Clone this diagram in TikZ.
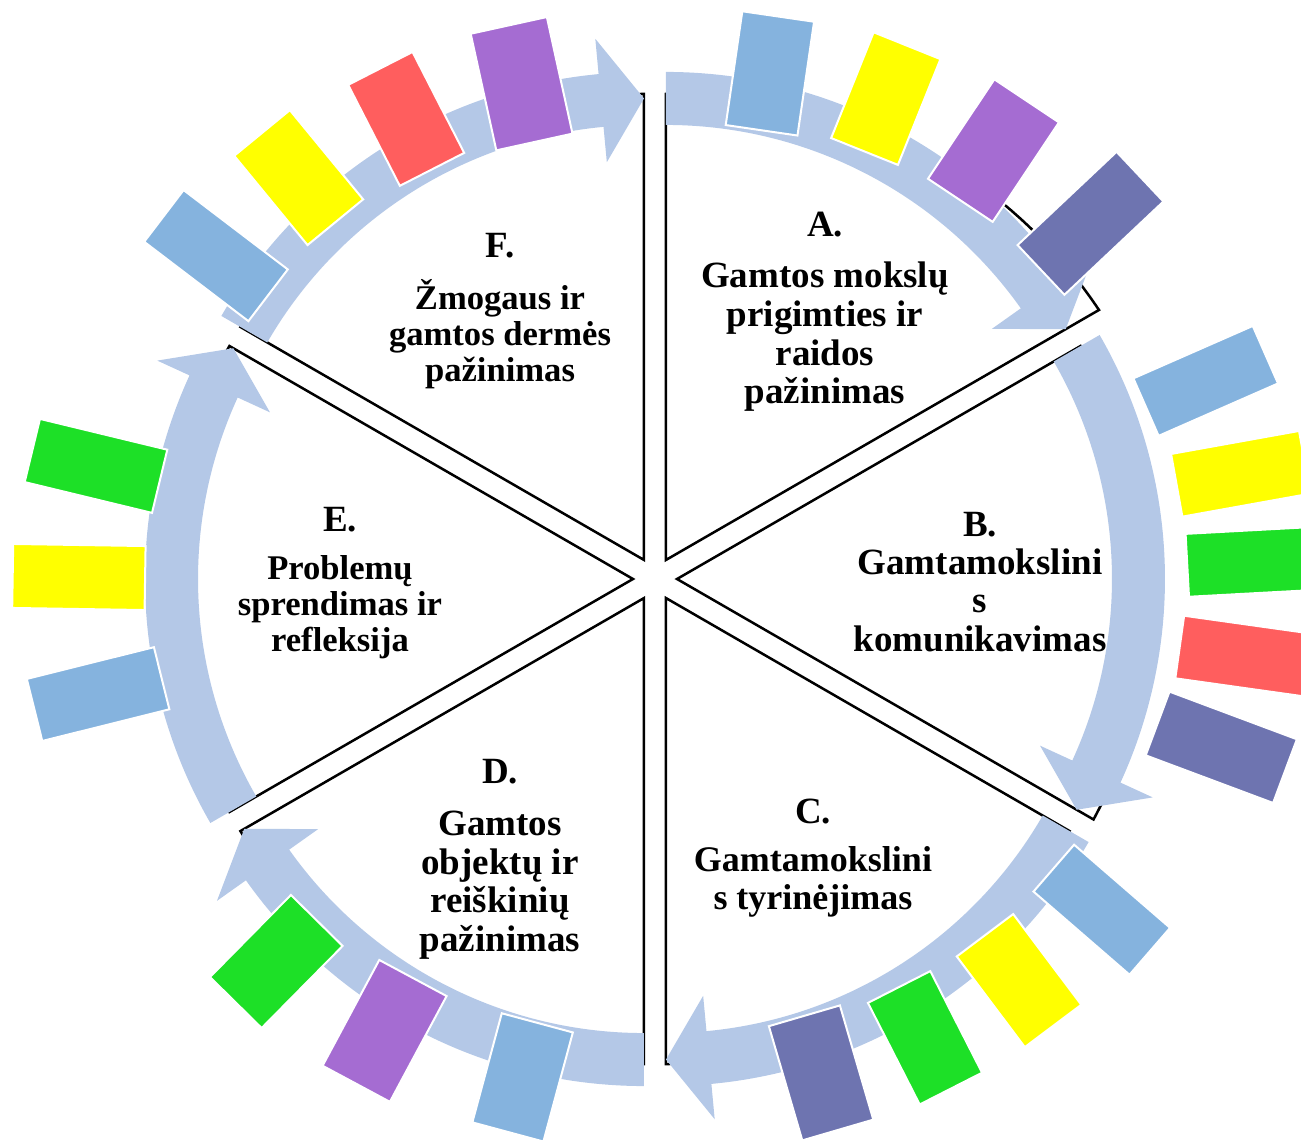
\documentclass[tikz,border=0pt]{standalone}
\usepackage{fontspec}
\setmainfont{Liberation Serif}
\definecolor{JuostosMelyna}{RGB}{180,200,231}
\definecolor{ZydraKort}{RGB}{133,179,222}
\definecolor{GeltonaKort}{RGB}{255,255,0}
\definecolor{VioletineKort}{RGB}{165,108,210}
\definecolor{RaudonaKort}{RGB}{255,94,94}
\definecolor{ZaliaKort}{RGB}{29,224,39}
\definecolor{MelsvaKort}{RGB}{110,116,176}
\usetikzlibrary{calc}

\begin{document}
\begin{tikzpicture}[x=0.5pt, y=0.5pt,
	sektorius/.style={draw=black, fill=white, line width=1.25pt},
	juosta/.style={fill=JuostosMelyna},
	kortele/.style={draw=white, line width=1pt},
	pavad/.style={font=\fontsize{18.5}{19.3}\selectfont\bfseries, align=center, inner sep=0pt},
	tekstas/.style={pavad},
	tankus/.style={pavad, font=\fontsize{17.3}{18}\selectfont\bfseries}]

	\useasboundingbox (-655,-562) rectangle (646,579);

	\foreach \t/\rr in {60/500, 0/481, -60/466, -120/466, 180/466, 120/466}{
		\draw[sektorius, shift={(\t:22)}] (0,0) -- plot[domain=\t+30:\t-30, samples=40]
			(\x:{466+(\rr-466)*(\t+30-\x)/60}) -- cycle;
	}
	% rodyklės eina pagal laikrodžio rodyklę
	\foreach \t in {60, 0, -60, -120, 180, 120}{
		\fill[juosta, shift={(\t:22)}] (\t+30:488)
			arc[start angle=\t+30, end angle=\t-24.66, radius=488]
			-- (\t-24.66:523.5) -- (\t-30:461.5) -- (\t-24.66:399.5) -- (\t-24.66:435)
			arc[start angle=\t-24.66, end angle=\t+30, radius=435] -- cycle;
	}
	\foreach \cx/\cy/\ang/\len/\wid/\col in {
		114.9/505.6/81.7/115/72.5/ZydraKort,
		230.8/480.4/68.1/114/72/GeltonaKort,
		338.5/428.4/56.3/119.5/77.7/VioletineKort,
		435.5/355.7/43.3/136/68.3/MelsvaKort,
		550.7/198.1/23.7/130.4/62.8/ZydraKort,
		585.7/105.2/10.2/130/63.7/GeltonaKort,
		597.2/17.2/3.1/130/63/ZaliaKort,
		588.6/-77/-8/129/63.2/RaudonaKort,
		566.3/-168.3/-20.5/136/68/MelsvaKort,
		446.8/-330.7/-40.9/127/62/ZydraKort,
		364/-401.6/-53.1/113.4/70.6/GeltonaKort,
		270/-458.8/-63/114/70/ZaliaKort,
		166.1/-493.9/-73.7/119/74/MelsvaKort,
		-132.4/-498.4/-105.1/113/73.6/ZydraKort,
		-270.4/-451.9/-118.2/120/76.4/VioletineKort,
		-378.7/-382.5/-134.6/115.3/72.6/ZaliaKort,
		-556.9/-115.1/-166/131/64/ZydraKort,
		-576.1/2/179.1/132.4/64/GeltonaKort,
		-559/113.1/166.4/131/65/ZaliaKort,
		-439/323.4/142.7/131/65/ZydraKort,
		-356.3/401.4/129.4/115.5/72/GeltonaKort,
		-248.8/460.1/117.1/113.4/72.3/RaudonaKort,
		-133.4/495.3/102.4/119.4/78/VioletineKort}{
		\draw[kortele, fill=\col, shift={(\cx,\cy)}, rotate=\ang]
			(-\len/2,-\wid/2) rectangle (\len/2,\wid/2);
	}

	\node[pavad] (pavA) at (170,354) {A.};
	\node[tekstas] (txtA) at (170,242) {Gamtos mokslų\\prigimties ir\\raidos\\pažinimas};
	\node[pavad] (pavB) at (325,54) {B.};
	\node[tekstas] (txtB) at (325,-21) {Gamtamokslini\\s\\komunikavimas};
	\node[pavad] (pavC) at (158,-233) {C.};
	\node[tekstas, font=\fontsize{18}{19.3}\selectfont\bfseries] (txtC) at (158,-303)
		{Gamtamokslini\\s tyrinėjimas};
	\node[pavad] (pavD) at (-155,-193) {D.};
	\node[tekstas] (txtD) at (-155,-306) {Gamtos\\objektų ir\\reiškinių\\pažinimas};
	\node[pavad] (pavE) at (-315,59) {E.};
	\node[tankus] (txtE) at (-315,-28.5) {Problemų\\sprendimas ir\\refleksija};
	\node[pavad] (pavF) at (-155,333) {F.};
	\node[tankus] (txtF) at (-155,245) {Žmogaus ir\\gamtos dermės\\pažinimas};
\end{tikzpicture}
\end{document}
